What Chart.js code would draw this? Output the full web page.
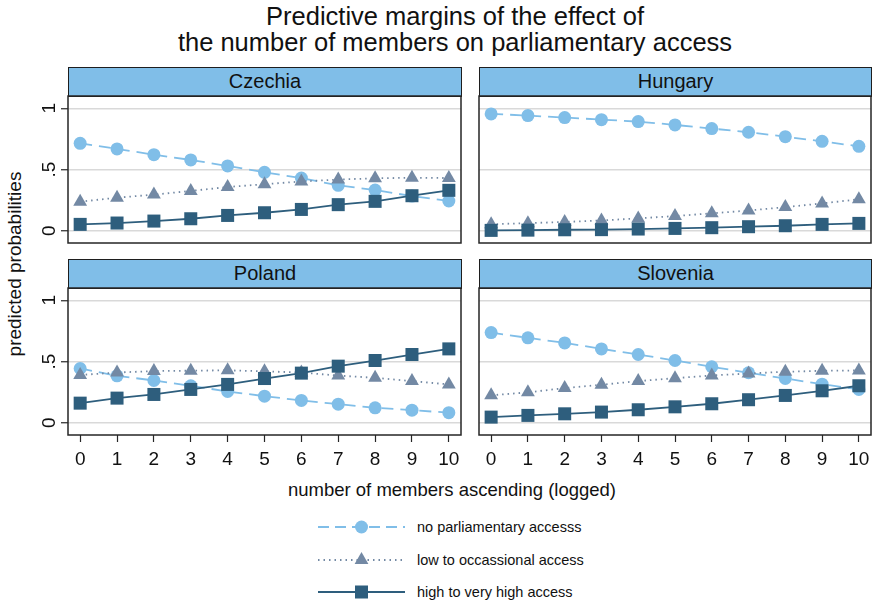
<!DOCTYPE html>
<html>
<head>
<meta charset="utf-8">
<script src="https://cdn.jsdelivr.net/npm/chart.js@4/dist/chart.umd.min.js"></script>
<style>
  html, body { margin: 0; padding: 0; background: #fff; }
  body { width: 873px; height: 603px; position: relative; overflow: hidden;
         font-family: "Liberation Sans", Arial, sans-serif; color: #111; }
  .abs { position: absolute; }
  #title { left: 0; top: 3px; width: 910px; text-align: center; font-size: 25.5px; line-height: 26px; }
  .strip { position: absolute; box-sizing: border-box; background: #80bee8; border: 1px solid #1e1e1e;
           text-align: center; font-size: 20px; line-height: 27px; color: #111; }
  #xtitle { left: 0; top: 479px; width: 904px; text-align: center; font-size: 18.5px; }
  #ytitle { left: 15px; top: 264px; font-size: 19px; white-space: nowrap;
            transform: translate(-50%, -50%) rotate(-90deg); }
  .leg { position: absolute; left: 417px; font-size: 14.5px; line-height: 18px; white-space: nowrap; }
  canvas { position: absolute; }
</style>
</head>
<body>
<div id="title" class="abs">Predictive margins of the effect of<br>the number of members on parliamentary access</div>
<div id="ytitle" class="abs">predicted probabilities</div>
<div id="xtitle" class="abs">number of members ascending (logged)</div>

<svg class="abs" style="left:0;top:0" width="873" height="603">
  <line x1="318" y1="527" x2="405" y2="527" stroke="#80bee8" stroke-width="1.8" stroke-dasharray="11 6"/>
  <circle cx="361.5" cy="527" r="6.5" fill="#80bee8"/>
  <line x1="318" y1="560" x2="405" y2="560" stroke="#7389a4" stroke-width="1.8" stroke-dasharray="1.5 4"/>
  <polygon points="361.5,552 368.4,564 354.6,564" fill="#7389a4"/>
  <line x1="318" y1="592" x2="405" y2="592" stroke="#2e5e7d" stroke-width="1.8"/>
  <rect x="355" y="585.5" width="13" height="13" fill="#2e5e7d"/>
</svg>
<div class="leg" style="top:518px">no parliamentary accesss</div>
<div class="leg" style="top:551px">low to occassional access</div>
<div class="leg" style="top:583px">high to very high access</div>

<script>
// x values: number of members ascending (logged)
const members = [0, 1, 2, 3, 4, 5, 6, 7, 8, 9, 10];
const yTicks = [0, 0.5, 1];

// predicted probabilities per country and access level
const czechiaNone  = [0.714, 0.668, 0.621, 0.578, 0.529, 0.477, 0.430, 0.371, 0.332, 0.283, 0.243];
const czechiaLow   = [0.237, 0.270, 0.295, 0.325, 0.357, 0.380, 0.402, 0.418, 0.428, 0.433, 0.430];
const czechiaHigh  = [0.052, 0.063, 0.079, 0.098, 0.125, 0.147, 0.174, 0.213, 0.240, 0.286, 0.330];

const hungaryNone  = [0.954, 0.940, 0.924, 0.907, 0.891, 0.864, 0.834, 0.804, 0.768, 0.730, 0.689];
const hungaryLow   = [0.053, 0.062, 0.072, 0.084, 0.101, 0.120, 0.142, 0.165, 0.193, 0.223, 0.257];
const hungaryHigh  = [0.003, 0.005, 0.008, 0.009, 0.014, 0.019, 0.025, 0.033, 0.041, 0.052, 0.060];

const polandNone   = [0.443, 0.383, 0.345, 0.302, 0.255, 0.217, 0.182, 0.152, 0.122, 0.103, 0.082];
const polandLow    = [0.390, 0.410, 0.422, 0.425, 0.428, 0.420, 0.410, 0.385, 0.367, 0.340, 0.313];
const polandHigh   = [0.160, 0.201, 0.231, 0.272, 0.313, 0.361, 0.405, 0.462, 0.508, 0.557, 0.603];

const sloveniaNone = [0.736, 0.693, 0.652, 0.603, 0.557, 0.508, 0.457, 0.408, 0.361, 0.315, 0.272];
const sloveniaLow  = [0.224, 0.248, 0.283, 0.310, 0.340, 0.364, 0.386, 0.402, 0.416, 0.424, 0.427];
const sloveniaHigh = [0.046, 0.060, 0.073, 0.087, 0.106, 0.130, 0.155, 0.188, 0.223, 0.261, 0.302];

const countries = ['Czechia', 'Hungary', 'Poland', 'Slovenia'];

const COL_NONE = '#80bee8';
const COL_LOW  = '#7389a4';
const COL_HIGH = '#2e5e7d';
const FONT = '"Liberation Sans", Arial, sans-serif';

// panel frames (plot region in page pixels)
const panels = [
  { name: countries[0], none: czechiaNone,  low: czechiaLow,  high: czechiaHigh,  l: 68,  t: 96,  r: 461, b: 243, showX: false, showY: true  },
  { name: countries[1], none: hungaryNone,  low: hungaryLow,  high: hungaryHigh,  l: 479, t: 96,  r: 871, b: 243, showX: false, showY: false },
  { name: countries[2], none: polandNone,   low: polandLow,   high: polandHigh,   l: 68,  t: 288, r: 461, b: 435, showX: true,  showY: true  },
  { name: countries[3], none: sloveniaNone, low: sloveniaLow, high: sloveniaHigh, l: 479, t: 288, r: 871, b: 435, showX: true,  showY: false },
];

const Y_AXIS_W = 50, X_AXIS_H = 42, PAD = 2;

// outline around the plot region
const frame = {
  id: 'frame',
  afterDraw(chart) {
    const { ctx, chartArea: a } = chart;
    ctx.save();
    ctx.strokeStyle = '#262626';
    ctx.lineWidth = 1.5;
    ctx.strokeRect(a.left, a.top, a.right - a.left, a.bottom - a.top);
    ctx.restore();
  }
};

const toPoints = vals => members.map((m, i) => ({ x: m, y: vals[i] }));
const noPadding = s => { s.paddingTop = s.paddingBottom = s.paddingLeft = s.paddingRight = 0; };

panels.forEach(p => {
  // strip with the country name
  const strip = document.createElement('div');
  strip.className = 'strip';
  strip.style.left = p.l + 'px';
  strip.style.top = (p.t - 29) + 'px';
  strip.style.width = (p.r - p.l + 1) + 'px';
  strip.style.height = '30px';
  strip.textContent = p.name;
  document.body.appendChild(strip);

  const padL = p.showY ? 0 : PAD;
  const cl = p.l - (p.showY ? Y_AXIS_W : PAD);
  const ct = p.t - PAD;
  const cw = p.r - cl + PAD;
  const ch = p.b - ct + (p.showX ? X_AXIS_H : PAD);

  const cv = document.createElement('canvas');
  cv.width = cw; cv.height = ch;
  cv.style.left = cl + 'px'; cv.style.top = ct + 'px';
  cv.style.width = cw + 'px'; cv.style.height = ch + 'px';
  document.body.appendChild(cv);

  new Chart(cv, {
    type: 'line',
    data: {
      datasets: [
        { label: 'no parliamentary accesss', data: toPoints(p.none), order: 3,
          borderColor: COL_NONE, borderWidth: 1.8, borderDash: [12, 7],
          pointStyle: 'circle', pointRadius: 6.5, pointBackgroundColor: COL_NONE, pointBorderWidth: 0 },
        { label: 'low to occassional access', data: toPoints(p.low), order: 2,
          borderColor: COL_LOW, borderWidth: 1.8, borderDash: [1.5, 4],
          pointStyle: 'triangle', pointRadius: 8, pointBackgroundColor: COL_LOW, pointBorderWidth: 0 },
        { label: 'high to very high access', data: toPoints(p.high), order: 1,
          borderColor: COL_HIGH, borderWidth: 1.8,
          pointStyle: 'rect', pointRadius: 9.2, pointBackgroundColor: COL_HIGH, pointBorderWidth: 0 },
      ]
    },
    options: {
      responsive: false,
      animation: false,
      events: [],
      devicePixelRatio: 1,
      layout: { autoPadding: false,
                padding: { left: padL, top: PAD, right: PAD, bottom: p.showX ? 0 : PAD } },
      plugins: { legend: { display: false }, tooltip: { enabled: false } },
      elements: { line: { tension: 0, fill: false } },
      scales: {
        x: {
          type: 'linear', min: -0.33, max: 10.33,
          display: p.showX,
          afterBuildTicks: s => { s.ticks = members.map(v => ({ value: v })); },
          afterFit: s => { s.height = p.showX ? X_AXIS_H : 0; noPadding(s); },
          border: { display: false },
          grid: { drawOnChartArea: false, drawTicks: true, tickLength: 7, tickColor: '#262626', tickWidth: 1.2 },
          ticks: { color: '#111', font: { family: FONT, size: 19 }, padding: 6, maxRotation: 0 }
        },
        y: {
          type: 'linear', min: -0.1, max: 1.1,
          afterBuildTicks: s => { s.ticks = yTicks.map(v => ({ value: v })); },
          afterFit: s => { s.width = p.showY ? Y_AXIS_W : 0; noPadding(s); },
          border: { display: false },
          grid: { color: '#d9d9d9', lineWidth: 1.5, drawTicks: p.showY, tickLength: 7,
                  tickColor: '#262626', tickWidth: 1.2 },
          ticks: { display: p.showY, color: '#111', font: { family: FONT, size: 19 },
                   minRotation: 90, maxRotation: 90, crossAlign: 'center', padding: 3,
                   callback: v => String(v).replace(/^0\./, '.') }
        }
      }
    },
    plugins: [frame]
  });
});
</script>
</body>
</html>
